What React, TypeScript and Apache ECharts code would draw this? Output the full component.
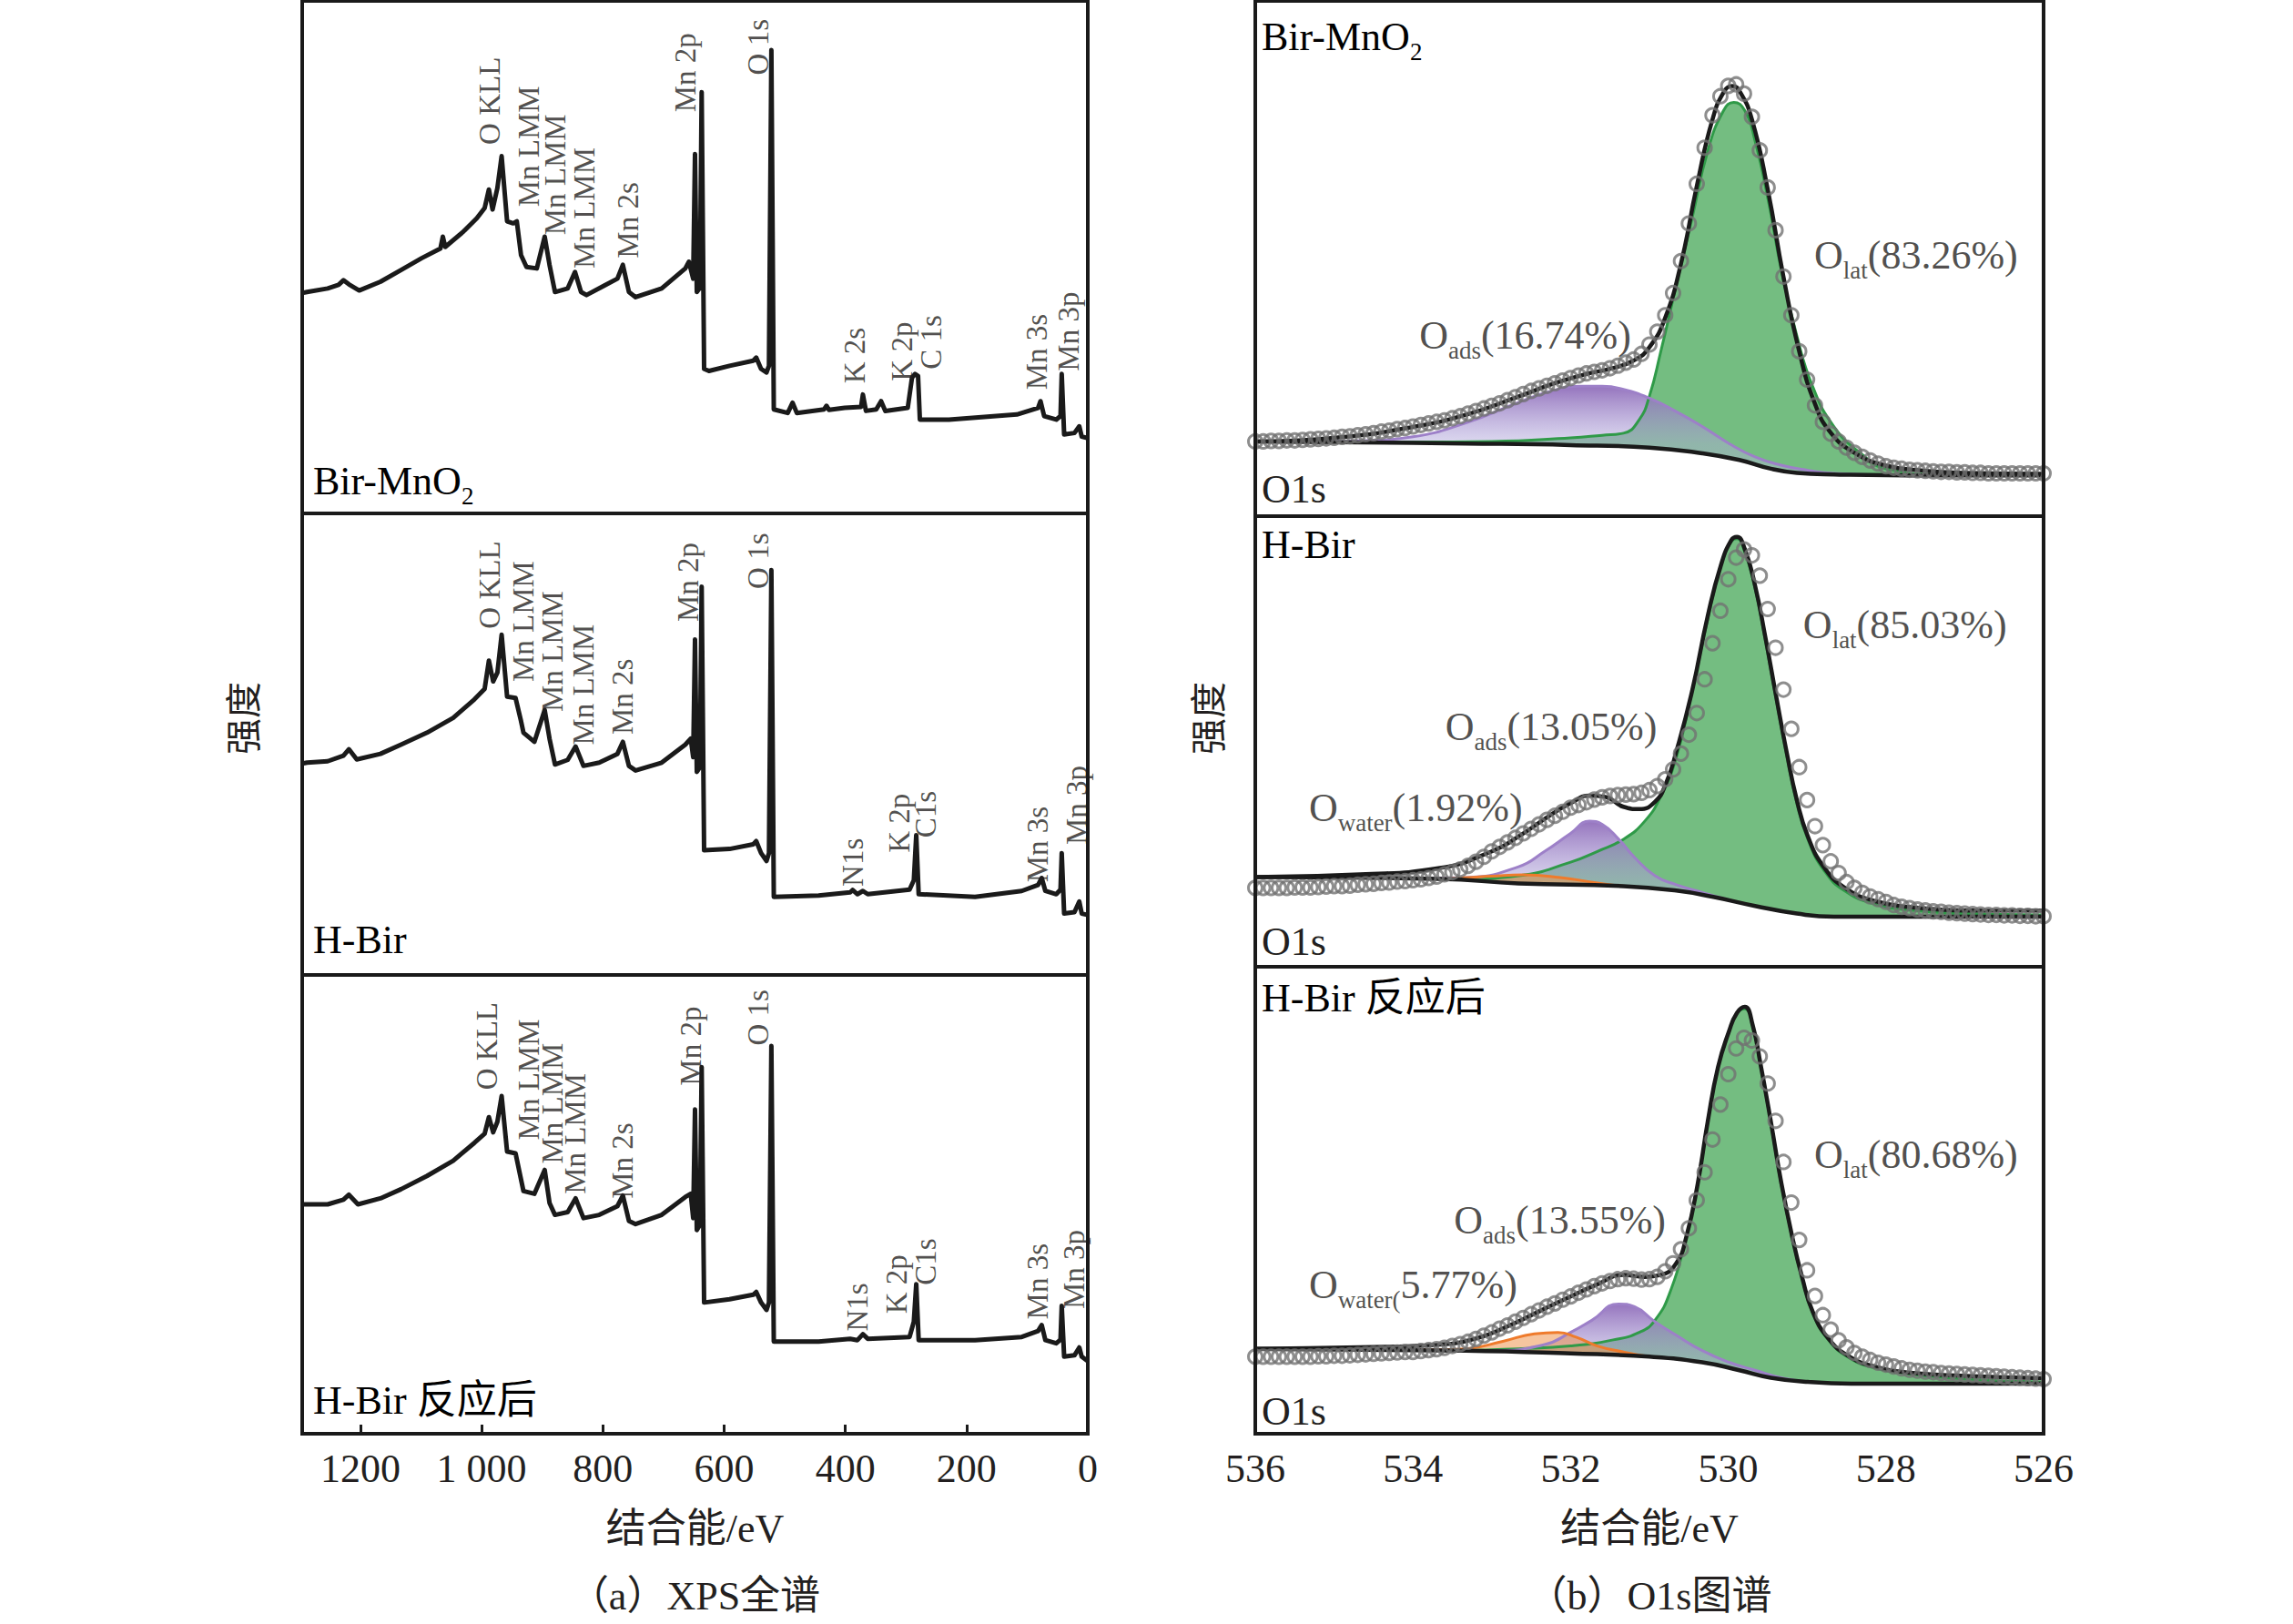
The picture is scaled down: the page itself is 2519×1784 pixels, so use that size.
import { useEffect, useRef } from 'react';
import * as echarts from 'echarts';

const W = 2519;
const H = 1784;
const FONT = '"Liberation Serif", "Times New Roman", "Noto Sans CJK SC", serif';
const TXT = '#231f20';
const INK = '#1a1a1a';

// ---------- (a) XPS survey spectra: [binding energy eV, relative intensity %] ----------
const birSurvey = [[1296,43.0],[1288,43.2],[1254,43.9],[1236,44.6],[1228,45.5],[1219,44.7],[1202,43.5],[1167,45.2],[1133,47.5],[1099,49.8],[1068,51.7],[1064,54.0],[1060,52.0],[1030,55.0],[1008,57.6],[995,59.6],[988,63.2],[982,59.3],[974,63.5],[967,69.7],[958,57.0],[948,56.6],[942,57.0],[935,50.4],[926,48.1],[909,47.8],[896,54.0],[888,48.5],[879,43.2],[858,43.9],[846,47.1],[836,43.2],[827,42.6],[797,44.5],[776,45.8],[767,48.5],[757,43.2],[746,42.2],[703,43.9],[664,47.8],[658,49.1],[651,45.8],[648,70.1],[645,43.2],[640,44.0],[637,82.2],[633,28.2],[625,27.8],[591,28.8],[552,29.8],[547,30.4],[539,28.2],[530,27.5],[526,28.8],[522,90.4],[518,20.3],[495,19.6],[487,21.6],[480,19.6],[435,20.3],[431,21.0],[427,20.2],[401,20.6],[374,20.8],[371,23.2],[366,20.0],[349,20.3],[341,21.9],[334,20.0],[297,20.6],[290,26.5],[285,27.2],[280,26.8],[277,18.3],[229,18.3],[117,19.3],[82,20.6],[78,21.9],[72,19.0],[52,18.3],[45,19.0],[43,27.2],[39,15.4],[22,15.7],[14,17.0],[10,15.0],[0,14.7]];
const hBirSurvey = [[1296,45.8],[1288,46.0],[1254,46.3],[1228,47.5],[1219,48.9],[1206,46.7],[1167,47.9],[1133,49.9],[1090,52.5],[1047,55.7],[1012,59.7],[995,62.0],[988,68.1],[981,63.6],[974,65.5],[967,73.7],[958,60.3],[944,60.0],[935,55.0],[931,52.5],[913,50.5],[896,57.4],[888,51.2],[879,45.6],[858,46.6],[845,49.5],[832,45.3],[806,46.0],[776,47.9],[767,50.5],[757,45.3],[746,44.3],[703,46.0],[664,49.9],[655,51.2],[651,47.2],[648,72.7],[645,44.0],[640,45.0],[637,84.1],[633,27.0],[591,27.3],[552,28.3],[547,29.0],[539,26.4],[530,24.7],[526,26.4],[522,87.7],[518,16.9],[444,17.2],[392,17.9],[388,18.4],[380,17.5],[371,18.2],[363,17.5],[294,18.5],[287,20.5],[283,30.3],[279,17.5],[186,16.9],[109,18.2],[82,19.5],[76,21.0],[70,18.2],[52,17.5],[45,18.5],[43,26.4],[39,13.3],[22,13.6],[14,15.9],[10,13.3],[0,13.0]];
const hBirAfterSurvey = [[1296,50.0],[1288,50.0],[1254,50.0],[1228,51.0],[1219,52.1],[1204,50.0],[1167,51.3],[1133,53.3],[1090,56.2],[1047,59.5],[1012,63.4],[995,65.4],[988,69.0],[981,65.7],[974,68.0],[967,73.6],[958,61.5],[944,61.1],[931,52.9],[913,52.3],[896,57.5],[888,50.3],[879,47.7],[858,48.3],[845,51.3],[832,47.0],[806,47.7],[776,49.6],[767,51.9],[757,46.4],[746,45.7],[703,47.7],[664,51.6],[655,52.3],[651,47.0],[648,70.7],[645,44.4],[640,45.5],[637,79.9],[633,28.6],[591,29.3],[552,30.3],[547,30.9],[539,28.6],[530,27.0],[526,28.6],[522,84.5],[518,20.1],[444,20.1],[392,20.7],[380,20.4],[371,21.7],[363,20.7],[294,21.1],[287,24.4],[283,32.6],[279,20.4],[186,20.4],[109,21.1],[82,22.4],[76,23.7],[70,20.4],[52,19.7],[45,20.5],[43,27.9],[39,16.8],[22,17.1],[14,18.8],[10,16.8],[0,15.8]];

// peak annotations: [text, eV, intensity]
const birSurveyLabels = [['O KLL',987,80.5],['Mn LMM',922,71.6],['Mn LMM',879,66.1],['Mn LMM',830,59.6],['Mn 2s',758,57.2],['Mn 2p',664,86.0],['O 1s',543,91.0],['K 2s',384,30.8],['K 2p',306,31.6],['C 1s',259,33.4],['Mn 3s',84,31.5],['Mn 3p',31,35.5]];
const hBirSurveyLabels = [['O KLL',987,84.5],['Mn LMM',931,76.6],['Mn LMM',883,70.1],['Mn LMM',832,62.9],['Mn 2s',767,60.3],['Mn 2p',659,85.1],['O 1s',543,89.7],['N1s',388,24.4],['K 2p',311,32.9],['C1s',268,34.8],['Mn 3s',82,28.3],['Mn 3p',18,36.8]];
const hBirAfterSurveyLabels = [['O KLL',991,84.5],['Mn LMM',922,77.2],['Mn LMM',883,72.0],['Mn LMM',845,65.4],['Mn 2s',767,59.5],['Mn 2p',655,84.5],['O 1s',543,90.7],['N1s',380,27.6],['K 2p',315,32.6],['C1s',268,37.5],['Mn 3s',82,33.2],['Mn 3p',22,35.8]];

const surveyTicks = [0, 200, 400, 600, 800, 1000, 1200];

// ---------- (b) O1s spectra ----------
// raw data, 536.0 eV down to 526.0 eV in 0.1 eV steps
const o1sStart = 536;
const o1sStep = 0.1;
const birO1sRaw = [14.5,14.5,14.6,14.6,14.7,14.7,14.8,14.9,15.0,15.1,15.2,15.4,15.5,15.7,15.9,16.1,16.4,16.6,16.9,17.1,17.4,17.7,18.0,18.3,18.6,19.0,19.4,19.9,20.4,20.9,21.4,21.9,22.5,23.1,23.7,24.3,24.8,25.3,25.8,26.3,26.8,27.3,27.7,28.0,28.3,28.7,29.2,29.8,30.4,31.5,33.3,35.8,39.0,43.3,49.5,56.8,64.5,71.5,77.8,81.5,83.5,83.8,82.0,77.5,71.0,63.8,55.5,46.5,39.0,32.0,26.5,21.5,18.3,16.0,14.5,13.3,12.3,11.5,10.8,10.2,9.7,9.4,9.2,9.0,8.9,8.8,8.7,8.6,8.6,8.5,8.5,8.4,8.4,8.3,8.3,8.3,8.3,8.3,8.3,8.3,8.3];
const hBirO1sRaw = [17.5,17.5,17.5,17.5,17.5,17.6,17.6,17.6,17.7,17.8,17.9,17.9,18.0,18.2,18.3,18.4,18.6,18.7,18.9,19.0,19.2,19.4,19.7,20.0,20.5,21.0,21.6,22.4,23.3,24.4,25.6,26.6,27.6,28.6,29.6,30.6,31.6,32.6,33.5,34.4,35.3,35.9,36.5,37.1,37.6,37.9,38.1,38.2,38.3,38.6,39.2,40.1,41.6,43.8,47.3,51.5,56.3,63.8,71.8,79.0,86.0,90.8,92.6,91.3,86.8,79.4,70.8,61.5,52.8,44.3,37.0,31.2,27.0,23.4,20.8,18.8,17.5,16.4,15.6,15.0,14.4,13.7,13.3,13.0,12.7,12.5,12.3,12.2,12.0,11.9,11.8,11.7,11.6,11.5,11.5,11.4,11.4,11.3,11.3,11.2,11.2];
const hBirAfterO1sRaw = [16.5,16.5,16.5,16.5,16.5,16.5,16.5,16.5,16.6,16.6,16.7,16.7,16.8,16.9,17.0,17.1,17.2,17.3,17.4,17.5,17.5,17.7,17.9,18.1,18.4,18.8,19.2,19.7,20.3,21.0,21.7,22.5,23.2,24.0,24.8,25.6,26.4,27.2,27.9,28.7,29.4,30.2,30.9,31.6,32.2,32.7,33.1,33.3,33.2,33.0,33.1,33.6,34.8,36.5,39.5,44.0,50.0,56.0,63.0,70.5,77.0,82.5,84.8,84.2,80.8,75.0,67.0,58.2,49.5,41.5,35.0,29.5,25.4,22.3,20.0,18.5,17.3,16.5,15.8,15.2,14.8,14.4,14.0,13.7,13.5,13.3,13.2,13.0,12.9,12.8,12.7,12.6,12.5,12.4,12.3,12.2,12.1,12.0,11.9,11.8,11.7];

// fitted envelope, Shirley background and components: [eV, intensity]
const birO1sFit = [[536,14.5],[535,15.2],[534,17.3],[533.3,19.8],[532.7,23.0],[532.2,25.8],[531.8,27.6],[531.5,28.6],[531.2,30.2],[531.0,32.8],[530.8,38.5],[530.6,49.0],[530.4,64.0],[530.2,77.0],[530.05,82.5],[529.95,83.5],[529.85,82.3],[529.7,77.0],[529.5,63.5],[529.3,46.5],[529.1,32.0],[528.9,21.8],[528.7,16.2],[528.4,12.3],[528.0,9.8],[527.5,8.8],[527.0,8.4],[526,8.2]];
const birO1sBg = [[536,14.5],[534.67,14.3],[533.33,14.1],[532.0,13.8],[531.0,13.3],[530.33,12.2],[529.86,10.9],[529.46,9.2],[529.13,8.4],[528.66,8.1],[527.5,7.9],[526,7.9]];
const birO1sAds = [[536,14.5],[535.0,14.5],[534.67,14.6],[534.0,15.4],[533.33,18.1],[532.67,22.0],[532.26,24.2],[531.86,25.2],[531.6,25.2],[531.33,24.6],[531.0,22.9],[530.66,20.3],[530.33,17.4],[529.99,14.1],[529.66,11.5],[529.33,9.9],[528.99,8.9],[528.66,8.3],[527.5,7.9],[526,7.9]];
const birO1sLat = [[536,14.5],[534.0,14.4],[533.0,14.5],[532.0,15.2],[531.6,15.7],[531.33,16.1],[531.13,18.7],[531.0,23.3],[530.86,31.7],[530.66,44.8],[530.46,57.8],[530.26,70.9],[530.06,78.7],[529.93,80.3],[529.79,78.7],[529.66,72.8],[529.49,61.1],[529.33,48.0],[529.13,35.0],[528.93,25.2],[528.66,17.4],[528.32,12.2],[527.99,9.2],[527.32,8.1],[526,7.9]];

const hBirO1sFit = [[536,19.9],[534.67,20.5],[533.66,21.9],[533.0,25.6],[532.66,28.9],[532.26,33.6],[532.0,36.3],[531.76,38.0],[531.56,37.7],[531.33,35.5],[531.13,35.0],[530.93,36.6],[530.79,40.7],[530.66,47.7],[530.46,61.1],[530.26,77.9],[530.09,89.3],[529.96,94.7],[529.89,95.4],[529.79,92.7],[529.66,84.6],[529.53,73.2],[529.39,59.8],[529.26,47.7],[529.13,37.0],[528.99,28.9],[528.79,22.2],[528.52,17.5],[528.12,14.5],[527.66,13.2],[526.99,12.5],[526,12.5]];
const hBirO1sBg = [[536,19.9],[533.66,19.5],[532.66,18.5],[531.33,17.9],[530.66,16.9],[530.19,15.5],[529.66,13.5],[529.13,11.8],[528.66,11.1],[526,11.1]];
const hBirO1sWater = [[536,19.9],[533.66,19.5],[533.3,19.8],[533.0,20.1],[532.6,20.4],[532.13,19.8],[531.66,18.6],[531.33,17.9],[530.66,16.9],[530.19,15.5],[529.66,13.5],[529.13,11.8],[528.66,11.1],[526,11.1]];
const hBirO1sAds = [[536,19.9],[534.0,19.6],[533.33,19.8],[532.66,22.2],[532.33,25.6],[532.0,29.6],[531.76,32.3],[531.6,31.6],[531.39,28.3],[531.19,24.3],[530.93,20.2],[530.66,18.2],[530.33,16.5],[529.99,14.8],[529.66,13.2],[529.33,11.8],[528.99,11.1],[526,11.1]];
const hBirO1sLat = [[536,19.9],[534.0,19.6],[533.33,19.5],[532.66,20.2],[532.0,23.2],[531.66,25.6],[531.33,28.3],[531.06,32.3],[530.86,37.7],[530.66,46.4],[530.46,61.1],[530.26,77.2],[530.09,89.3],[529.96,94.4],[529.89,95.0],[529.79,92.0],[529.66,84.0],[529.53,72.5],[529.39,59.1],[529.26,47.0],[529.13,36.3],[528.99,28.3],[528.79,21.5],[528.52,16.8],[528.12,13.8],[527.66,12.5],[526.99,11.8],[526,11.5]];

const hBirAfterO1sFit = [[536,18.2],[534.67,18.5],[533.66,19.1],[533.2,20.4],[532.8,23.0],[532.4,26.2],[532.0,29.4],[531.66,32.0],[531.33,34.0],[531.06,33.6],[530.86,34.0],[530.66,36.5],[530.53,42.3],[530.39,53.3],[530.26,66.9],[530.13,78.5],[529.99,86.2],[529.89,90.1],[529.79,91.4],[529.69,87.5],[529.59,79.1],[529.46,66.9],[529.33,54.0],[529.19,42.3],[529.06,33.3],[528.93,26.2],[528.73,20.4],[528.46,16.5],[528.12,14.3],[527.66,13.0],[526.99,12.4],[526,11.9]];
const hBirAfterO1sBg = [[536,18.2],[533.33,17.8],[532.0,17.2],[531.0,16.5],[530.33,15.3],[529.86,13.6],[529.46,12.0],[528.99,11.1],[528.32,10.7],[526,10.7]];
const hBirAfterO1sWater = [[536,18.2],[533.66,18.0],[533.33,18.2],[532.86,19.8],[532.46,21.4],[532.16,21.7],[531.93,20.7],[531.66,18.8],[531.33,17.5],[531.0,16.5],[530.33,15.3],[529.86,13.6],[529.46,12.0],[528.99,11.1],[528.32,10.7],[526,10.7]];
const hBirAfterO1sAds = [[536,18.2],[533.66,18.0],[533.0,17.8],[532.33,19.1],[532.0,21.7],[531.73,24.3],[531.39,27.8],[531.19,27.2],[530.93,24.0],[530.66,21.1],[530.33,17.8],[529.99,15.3],[529.66,13.6],[529.33,12.0],[528.99,11.1],[528.32,10.7],[526,10.7]];
const hBirAfterO1sLat = [[536,18.2],[533.33,17.9],[532.66,18.2],[532.0,18.8],[531.46,20.1],[531.13,21.7],[530.93,24.3],[530.73,30.7],[530.53,42.3],[530.39,53.3],[530.26,66.9],[530.13,78.5],[529.99,86.2],[529.89,90.1],[529.79,91.0],[529.69,87.2],[529.59,78.8],[529.46,66.5],[529.33,53.6],[529.19,42.0],[529.06,33.0],[528.93,25.9],[528.73,20.1],[528.46,16.2],[528.12,14.0],[527.66,12.7],[526.99,11.7],[526,11.1]];

// component annotations: [subscript, text, eV, intensity]
const birO1sLabels = [['lat','(83.26%)',528.91,50.7],['ads','(16.74%)',533.92,35.0]];
const hBirO1sLabels = [['lat','(85.03%)',529.05,75.9],['ads','(13.05%)',533.59,53.3],['water','(1.92%)',535.32,35.3]];
const hBirAfterO1sLabels = [['lat','(80.68%)',528.91,59.8],['ads','(13.55%)',533.48,45.8],['water(','5.77%)',535.32,31.8]];

const sampleNames = [['Bir-MnO','2'],['H-Bir',''],['H-Bir 反应后','']];

// ---------- layout ----------
const LEFT_X = 332, LEFT_W = 863;
const RIGHT_X = 1379, RIGHT_W = 866;
const LEFT_ROWS = [[1, 564], [564, 1071], [1071, 1575]];
const RIGHT_ROWS = [[1, 567], [567, 1062], [1062, 1575]];

const rich = {
  m: { fontSize: 44, fontFamily: FONT, color: TXT, lineHeight: 40, padding: [0, 0, 8, 0], verticalAlign: 'bottom' },
  s: { fontSize: 27, fontFamily: FONT, color: TXT, lineHeight: 12, verticalAlign: 'bottom' },
};

function buildOption() {
  const grids: any[] = [];
  const xAxes: any[] = [];
  const yAxes: any[] = [];
  const series: any[] = [];
  const graphics: any[] = [];

  const surveys = [birSurvey, hBirSurvey, hBirAfterSurvey];
  const surveyLabels = [birSurveyLabels, hBirSurveyLabels, hBirAfterSurveyLabels];
  const raws = [birO1sRaw, hBirO1sRaw, hBirAfterO1sRaw];
  const fits = [birO1sFit, hBirO1sFit, hBirAfterO1sFit];
  const bgs = [birO1sBg, hBirO1sBg, hBirAfterO1sBg];
  const lats = [birO1sLat, hBirO1sLat, hBirAfterO1sLat];
  const adss = [birO1sAds, hBirO1sAds, hBirAfterO1sAds];
  const waters = [null, hBirO1sWater, hBirAfterO1sWater];
  const o1sLabels = [birO1sLabels, hBirO1sLabels, hBirAfterO1sLabels];

  const tickLabelStyle = { fontSize: 44, fontFamily: FONT, color: TXT };

  // left column
  for (let i = 0; i < 3; i++) {
    const [t, b] = LEFT_ROWS[i];
    grids.push({ left: LEFT_X, top: t, width: LEFT_W, height: b - t });
    const bottom = i === 2;
    xAxes.push({
      gridIndex: i, type: 'value', min: 0, max: 1296, interval: 200, inverse: true,
      axisLine: { show: false }, splitLine: { show: false },
      axisTick: { show: bottom, inside: true, length: 10, lineStyle: { color: INK, width: 3 } },
      axisLabel: {
        show: bottom, margin: 16, ...tickLabelStyle,
        formatter: (v: number) => (surveyTicks.includes(v) ? (v === 1000 ? '1 000' : String(v)) : ''),
      },
      name: bottom ? '结合能/eV' : '', nameLocation: 'middle', nameGap: 82,
      nameTextStyle: { fontSize: 44, fontFamily: FONT, color: TXT },
    });
    yAxes.push({ gridIndex: i, type: 'value', min: 0, max: 100, show: false });
    series.push({
      type: 'line', xAxisIndex: i, yAxisIndex: i, data: surveys[i], symbol: 'none', showSymbol: false,
      lineStyle: { color: INK, width: 5, join: 'round' }, z: 3, silent: true,
    });
    series.push({
      type: 'scatter', xAxisIndex: i, yAxisIndex: i, silent: true, symbolSize: 1,
      itemStyle: { color: 'rgba(0,0,0,0)' },
      data: surveyLabels[i].map(([txt, x, y]) => ({ name: txt, value: [x, y] })),
      label: { show: true, position: 'inside', rotate: 90, formatter: '{b}', fontSize: 33, fontFamily: FONT, color: TXT },
      z: 6,
    });
    graphics.push({ type: 'rect', z: 100, shape: { x: LEFT_X, y: t, width: LEFT_W, height: b - t }, style: { fill: 'none', stroke: INK, lineWidth: 4 } });
  }

  // right column
  for (let j = 0; j < 3; j++) {
    const gi = 3 + j;
    const [t, b] = RIGHT_ROWS[j];
    grids.push({ left: RIGHT_X, top: t, width: RIGHT_W, height: b - t });
    const bottom = j === 2;
    xAxes.push({
      gridIndex: gi, type: 'value', min: 526, max: 536, interval: 2, inverse: true,
      axisLine: { show: false }, splitLine: { show: false },
      axisTick: { show: bottom, inside: true, length: 10, lineStyle: { color: INK, width: 3 } },
      axisLabel: { show: bottom, margin: 16, ...tickLabelStyle },
      name: bottom ? '结合能/eV' : '', nameLocation: 'middle', nameGap: 82,
      nameTextStyle: { fontSize: 44, fontFamily: FONT, color: TXT },
    });
    yAxes.push({ gridIndex: gi, type: 'value', min: 0, max: 100, show: false });
    const common = { xAxisIndex: gi, yAxisIndex: gi, symbol: 'none', showSymbol: false, silent: true, smooth: 0.5 };
    series.push({
      ...common, type: 'line', data: lats[j], z: 2,
      lineStyle: { color: '#2f9a48', width: 3 },
      areaStyle: { color: '#74bd81', opacity: 1 },
    });
    series.push({
      ...common, type: 'line', data: adss[j], z: 2,
      lineStyle: { color: '#9d80c8', width: 3 },
      areaStyle: {
        opacity: 1,
        color: {
          type: 'linear', x: 0, y: 0, x2: 0, y2: 1,
          colorStops: [
            { offset: 0, color: 'rgba(140,104,184,0.92)' },
            { offset: 0.45, color: 'rgba(180,172,222,0.45)' },
            { offset: 1, color: 'rgba(200,200,232,0.3)' },
          ],
        },
      },
    });
    if (waters[j]) {
      series.push({
        ...common, type: 'line', data: waters[j], z: 2,
        lineStyle: { color: '#ef7b2c', width: 3 },
        areaStyle: { color: 'rgba(238,150,80,0.55)', opacity: 1 },
      });
    }
    // background (white below it hides component fills under the baseline)
    series.push({
      ...common, type: 'line', data: bgs[j], z: 3,
      lineStyle: { color: INK, width: 4.5 },
      areaStyle: { color: '#ffffff', opacity: 1 },
    });
    series.push({
      ...common, type: 'line', data: fits[j], z: 4,
      lineStyle: { color: INK, width: 4.5 },
    });
    series.push({
      type: 'scatter', xAxisIndex: gi, yAxisIndex: gi, silent: true, z: 5,
      symbol: 'circle', symbolSize: 15,
      itemStyle: { color: 'rgba(255,255,255,0)', borderColor: '#727272', borderWidth: 3 },
      data: raws[j].map((h, k) => [o1sStart - k * o1sStep, h]),
    });
    series.push({
      type: 'scatter', xAxisIndex: gi, yAxisIndex: gi, silent: true, z: 6, symbolSize: 1,
      itemStyle: { color: 'rgba(0,0,0,0)' },
      data: o1sLabels[j].map(([sub, rest, x, y]) => ({ value: [x, y], sub, rest })),
      label: {
        show: true, position: 'inside', align: 'left', verticalAlign: 'middle', offset: [0, 10],
        formatter: (p: any) => `{m|O}{s|${p.data.sub}}{m|${p.data.rest}}`,
        rich,
      },
    });
    graphics.push({ type: 'rect', z: 100, shape: { x: RIGHT_X, y: t, width: RIGHT_W, height: b - t }, style: { fill: 'none', stroke: INK, lineWidth: 4 } });
  }

  // panel titles
  const nameText = (k: number) => {
    const [main, sub] = sampleNames[k];
    return sub ? `{m|${main}}{s|${sub}}` : `{m|${main}}`;
  };
  const leftTitleY = [538, 1042, 1548];
  const rightTitleY = [50, 608, 1106];
  const o1sY = [537, 1034, 1550];
  for (let k = 0; k < 3; k++) {
    graphics.push({ type: 'text', z: 101, x: 344, y: leftTitleY[k], style: { text: nameText(k), rich, align: 'left', verticalAlign: 'middle' } });
    graphics.push({ type: 'text', z: 101, x: 1386, y: rightTitleY[k], style: { text: nameText(k), rich, align: 'left', verticalAlign: 'middle' } });
    graphics.push({ type: 'text', z: 101, x: 1386, y: o1sY[k], style: { text: 'O1s', fontSize: 44, fontFamily: FONT, fill: TXT, align: 'left', verticalAlign: 'middle' } });
  }
  // y-axis titles
  graphics.push({ type: 'text', z: 101, x: 268, y: 789, rotation: Math.PI / 2, style: { text: '强度', fontSize: 40, fontFamily: FONT, fill: TXT, align: 'center', verticalAlign: 'middle' } });
  graphics.push({ type: 'text', z: 101, x: 1328, y: 789, rotation: Math.PI / 2, style: { text: '强度', fontSize: 40, fontFamily: FONT, fill: TXT, align: 'center', verticalAlign: 'middle' } });
  // captions
  graphics.push({ type: 'text', z: 101, x: 763, y: 1753, style: { text: '（a）XPS全谱', fontSize: 44, fontFamily: FONT, fill: TXT, align: 'center', verticalAlign: 'middle' } });
  graphics.push({ type: 'text', z: 101, x: 1812, y: 1753, style: { text: '（b）O1s图谱', fontSize: 44, fontFamily: FONT, fill: TXT, align: 'center', verticalAlign: 'middle' } });

  return {
    animation: false,
    backgroundColor: '#ffffff',
    grid: grids,
    xAxis: xAxes,
    yAxis: yAxes,
    series,
    graphic: { elements: graphics },
  };
}

export default function App() {
  const ref = useRef<HTMLDivElement>(null);
  useEffect(() => {
    if (!ref.current) return;
    const chart = echarts.init(ref.current, undefined, { renderer: 'svg', width: W, height: H });
    chart.setOption(buildOption() as any);
    return () => chart.dispose();
  }, []);
  return <div ref={ref} style={{ position: 'absolute', left: 0, top: 0, width: W, height: H, background: '#fff' }} />;
}
